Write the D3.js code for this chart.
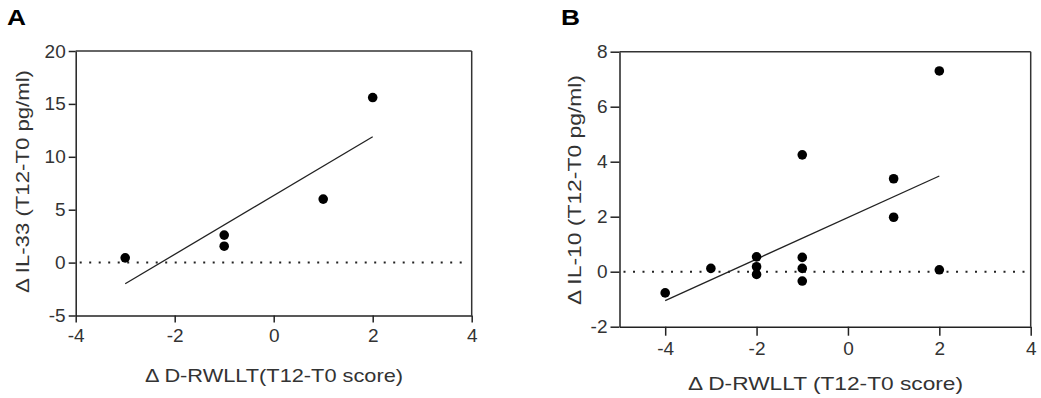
<!DOCTYPE html>
<html>
<head>
<meta charset="utf-8">
<script src="https://cdn.jsdelivr.net/npm/d3@7"></script>
<style>
  body { margin: 0; background: #fff; }
  svg text { font-family: "Liberation Sans", Arial, sans-serif; }
</style>
</head>
<body>
<div id="chart"></div>
<script>
// panel A: change in IL-33 vs change in D-RWLLT
var xA = [-3, -1, -1, 1, 2];
var yA = [0.45, 2.6, 1.55, 6.0, 15.6];
var fitA = [[-3, -2.0], [2, 11.9]];
var xTicksA = [-4, -2, 0, 2, 4];
var yTicksA = [-5, 0, 5, 10, 15, 20];

// panel B: change in IL-10 vs change in D-RWLLT
var xB = [-4, -3, -2, -2, -2, -1, -1, -1, -1, 1, 1, 2, 2];
var yB = [-0.77, 0.12, 0.54, 0.18, -0.1, 4.25, 0.52, 0.12, -0.34, 3.38, 1.98, 7.3, 0.07];
var fitB = [[-4, -1.05], [2, 3.48]];
var xTicksB = [-4, -2, 0, 2, 4];
var yTicksB = [-2, 0, 2, 4, 6, 8];

var width = 1041, height = 398;

var svg = d3.select("#chart")
            .append("svg")
            .attr("width", width)
            .attr("height", height);

function drawPanel(opt) {
    var x = d3.scaleLinear().domain(opt.xDomain).range([opt.left, opt.right]);
    var y = d3.scaleLinear().domain(opt.yDomain).range([opt.bottom, opt.top]);
    var g = svg.append("g");

    // panel letter
    g.append("text")
     .attr("x", opt.letterX)
     .attr("y", 25)
     .attr("textLength", 19)
     .attr("lengthAdjust", "spacingAndGlyphs")
     .text(opt.letter)
     .style("font-weight", "bold")
     .style("font-size", "22px")
     .style("fill", "#000");

    // zero reference line
    g.append("line")
     .attr("x1", opt.left + 4)
     .attr("x2", opt.right - 4)
     .attr("y1", y(0))
     .attr("y2", y(0))
     .style("stroke", "#222")
     .style("stroke-width", 2)
     .style("stroke-dasharray", "2,7.5");

    // frame top and right
    g.append("line")
     .attr("x1", opt.left).attr("x2", opt.right)
     .attr("y1", opt.top).attr("y2", opt.top)
     .style("stroke", "#333").style("stroke-width", 1.5);
    g.append("line")
     .attr("x1", opt.right).attr("x2", opt.right)
     .attr("y1", opt.top).attr("y2", opt.bottom)
     .style("stroke", "#333").style("stroke-width", 1.5);

    var fmt = d => String(d);
    var xAxis = g.append("g")
                 .attr("transform", "translate(0," + opt.bottom + ")")
                 .call(d3.axisBottom(x).tickValues(opt.xTicks).tickFormat(fmt)
                         .tickSize(opt.tick).tickPadding(opt.xPad).tickSizeOuter(0));
    var yAxis = g.append("g")
                 .attr("transform", "translate(" + opt.left + ",0)")
                 .call(d3.axisLeft(y).tickValues(opt.yTicks).tickFormat(fmt)
                         .tickSize(opt.tick).tickPadding(3).tickSizeOuter(0));

    [xAxis, yAxis].forEach(function(ax) {
        ax.select(".domain").style("stroke", "#222").style("stroke-width", 1.5);
        ax.selectAll(".tick line").style("stroke", "#222").style("stroke-width", 1.5);
        ax.selectAll(".tick text")
          .style("font-size", "19px")
          .style("fill", "#333")
          .style("font-family", "'Liberation Sans', Arial, sans-serif");
    });

    // regression line
    g.append("line")
     .attr("x1", x(opt.fit[0][0])).attr("y1", y(opt.fit[0][1]))
     .attr("x2", x(opt.fit[1][0])).attr("y2", y(opt.fit[1][1]))
     .style("stroke", "#222")
     .style("stroke-width", 1.3);

    // points
    g.selectAll(".pt")
     .data(opt.xs.map(function(d, i) { return [d, opt.ys[i]]; }))
     .enter()
     .append("circle")
     .attr("class", "pt")
     .attr("cx", d => x(d[0]))
     .attr("cy", d => y(d[1]))
     .attr("r", 4.8)
     .style("fill", "#000");

    // axis titles
    g.append("text")
     .attr("x", opt.xTitleX)
     .attr("y", opt.xTitleY)
     .attr("textLength", opt.xTitleLen)
     .attr("lengthAdjust", "spacingAndGlyphs")
     .style("font-size", "19px")
     .style("fill", "#333")
     .text(opt.xTitle);

    g.append("text")
     .attr("transform", "translate(" + opt.yTitleX + "," + opt.yTitleStart + ") rotate(-90)")
     .attr("textLength", opt.yTitleLen)
     .attr("lengthAdjust", "spacingAndGlyphs")
     .style("font-size", "19px")
     .style("fill", "#333")
     .text(opt.yTitle);
}

drawPanel({
    letter: "A", letterX: 7,
    xs: xA, ys: yA, fit: fitA,
    xDomain: [-4, 4], yDomain: [-5, 20],
    xTicks: xTicksA, yTicks: yTicksA,
    left: 75.7, right: 471.7, top: 51, bottom: 315.5,
    tick: 7, xPad: 6,
    xTitle: "\u0394 D-RWLLT(T12-T0 score)", xTitleX: 145, xTitleY: 382, xTitleLen: 258,
    yTitle: "\u0394 IL-33 (T12-T0 pg/ml)", yTitleX: 29, yTitleStart: 293, yTitleLen: 223
});

drawPanel({
    letter: "B", letterX: 561,
    xs: xB, ys: yB, fit: fitB,
    xDomain: [-5, 4], yDomain: [-2, 8],
    xTicks: xTicksB, yTicks: yTicksB,
    left: 619.5, right: 1030.7, top: 51.7, bottom: 326.7,
    tick: 9, xPad: 6,
    xTitle: "\u0394 D-RWLLT (T12-T0 score)", xTitleX: 688, xTitleY: 390, xTitleLen: 275,
    yTitle: "\u0394 IL-10 (T12-T0 pg/ml)", yTitleX: 581, yTitleStart: 305, yTitleLen: 230
});
</script>
</body>
</html>
